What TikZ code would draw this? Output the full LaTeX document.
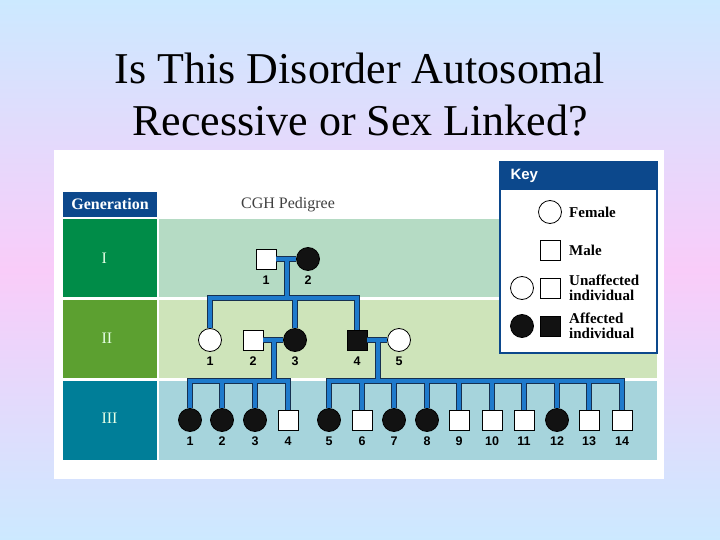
\documentclass[tikz,border=0pt]{standalone}
\usepackage{fontspec}
\setmainfont{Liberation Serif}
\setsansfont{Liberation Sans}
\usetikzlibrary{positioning, calc}

\definecolor{bgtop}{RGB}{204,233,255}
\definecolor{bgmid}{RGB}{249,204,249}
\definecolor{hdrblue}{RGB}{12,72,140}
\definecolor{genone}{RGB}{0,140,72}
\definecolor{gentwo}{RGB}{92,160,48}
\definecolor{genthree}{RGB}{0,126,152}
\definecolor{bandone}{RGB}{181,219,196}
\definecolor{bandtwo}{RGB}{206,228,186}
\definecolor{bandthree}{RGB}{166,212,220}
\definecolor{lineblue}{RGB}{30,122,204}
\definecolor{linedark}{RGB}{22,48,80}

\tikzset{
  num/.style={font=\fontsize{12.5}{14}\selectfont\sffamily\bfseries, anchor=center},
  fem/.style={circle, draw, thick, fill=white, minimum size=23pt, inner sep=0pt,
    label={[num, label distance=9pt]below:#1}},
  mal/.style={rectangle, draw, thick, fill=white, minimum size=20pt, inner sep=0pt,
    label={[num, label distance=10.5pt]below:#1}},
  fem/.default={}, mal/.default={},
  aff/.style={fill=black!93},
  afem/.style={fem=#1, aff},
  amal/.style={mal=#1, aff},
  afem/.default={}, amal/.default={},
  link/.style={draw=linedark, line width=1pt, double=lineblue, double distance=3.2pt},
  keytxt/.style={anchor=west, align=left, font=\fontsize{15}{15.5}\selectfont\bfseries, inner sep=0pt},
  roman/.style={anchor=west, text=white!90!green, font=\fontsize{16}{16}\selectfont}
}

\begin{document}
\begin{tikzpicture}[x=1pt, y=-1pt]
\useasboundingbox (0,0) rectangle (720,540);
\shade[top color=bgtop, bottom color=bgtop, middle color=bgmid] (0,0) rectangle (720,540);

% title
\node[anchor=base, font=\fontsize{44}{52}\selectfont] (title1) at (360,84) {Is This Disorder Autosomal};
\node[anchor=base, font=\fontsize{44}{52}\selectfont] (title2) at (360,136) {Recessive or Sex Linked?};

% panel and generation rows
\fill[white] (54,150) rectangle (664,479);
\fill[hdrblue] (63,192) rectangle (157,217);
\node[text=white, font=\fontsize{16}{16}\selectfont\bfseries] (gen) at (110,204.5) {Generation};
\node[text=black!75, font=\fontsize{16}{16}\selectfont] (cgh) at (288,204.5) {CGH Pedigree};
\fill[genone] (63,219) rectangle (157,297);
\fill[gentwo] (63,300) rectangle (157,378);
\fill[genthree] (63,381) rectangle (157,460);
\fill[bandone] (159,219) rectangle (657,297);
\fill[bandtwo] (159,300) rectangle (657,378);
\fill[bandthree] (159,381) rectangle (657,460);
\node[roman] (gI) at (98,258) {I};
\node[roman] (gII) at (98,338) {II};
\node[roman] (gIII) at (98,418) {III};

% key
\draw[fill=white, draw=hdrblue, line width=1.5pt] (500,162) rectangle (657,353);
\fill[hdrblue] (500,162) rectangle (657,190);
\node[anchor=west, text=white, font=\fontsize{15}{15}\selectfont\sffamily\bfseries] (key) at (507,176) {Key};
\node[fem] (kfem) at (550,212) {};
\node[keytxt] at (569,212) {Female};
\node[mal] (kmal) at (550,250) {};
\node[keytxt] at (569,250) {Male};
\node[fem] (kuf) at (522,288) {};
\node[mal] (kum) at (550,288) {};
\node[keytxt] at (569,288) {Unaffected\\individual};
\node[afem] (kaf) at (522,326) {};
\node[amal] (kam) at (550,326) {};
\node[keytxt] at (569,326) {Affected\\individual};

% generation I
\node[mal=1] (i1) at (266,259) {};
\node[afem=2] (i2) at (308,259) {};

% generation II
\node[fem=1] (ii1) at (210,340) {};
\node[mal=2] (ii2) at (253,340) {};
\node[afem=3] (ii3) at (295,340) {};
\node[amal=4] (ii4) at (357,340) {};
\node[fem=5] (ii5) at (399,340) {};

% generation III
\foreach \k/\xx/\kind in {1/190/afem, 2/222/afem, 3/255/afem, 4/288/mal,
    5/329/afem, 6/362/mal, 7/394/afem, 8/427/afem, 9/459/mal,
    10/492/mal, 11/524/mal, 12/557/afem, 13/589/mal, 14/622/mal}
  \node[\kind=\k] (iii\k) at (\xx,420) {};

% connectors
\coordinate (mI) at ($(i1)!0.5!(i2)$);
\coordinate (sI) at ($(mI)+(0,39)$);
\coordinate (mIIa) at ($(ii2)!0.5!(ii3)$);
\coordinate (sIIa) at ($(mIIa)+(0,41)$);
\coordinate (mIIb) at ($(ii4)!0.5!(ii5)$);
\coordinate (sIIb) at ($(mIIb)+(0,41)$);
\draw[link] (i1) -- (i2) (mI) -- (sI)
  (ii1) |- (sI) -| (ii4) (sI) -| (ii3)
  (ii2) -- (ii3) (mIIa) -- (sIIa)
  (iii1) |- (sIIa) -| (iii4)
  \foreach \k in {2,3} {(sIIa) -| (iii\k)}
  (ii4) -- (ii5) (mIIb) -- (sIIb)
  (iii5) |- (sIIb) -| (iii14)
  \foreach \k in {6,...,13} {(sIIb) -| (iii\k)};
\end{tikzpicture}
\end{document}
